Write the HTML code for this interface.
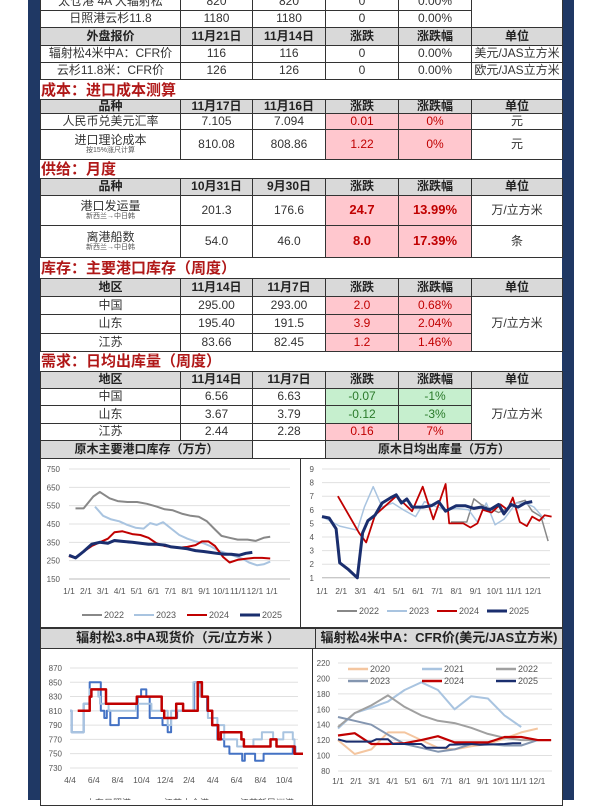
<!DOCTYPE html>
<html><head><meta charset="utf-8">
<style>
body{margin:0;width:600px;height:800px;overflow:hidden;background:#fff;font-family:"Liberation Sans","Noto Sans CJK SC",sans-serif;position:relative}
.c{position:absolute;box-sizing:border-box;border:1px solid #333;display:flex;flex-direction:column;align-items:center;justify-content:center;font-size:12px;color:#333;background:#fff;line-height:1.1;text-align:center;white-space:nowrap}
.h{background:#d9d9d9;font-weight:bold;color:#222}
.p{background:#ffc7ce;color:#c00000}
.g{background:#c6efce;color:#2a7a2a}
.t{position:absolute;left:41px;font-size:15px;font-weight:bold;color:#b01818}
small{font-size:7px;color:#555}
.nav{position:absolute;top:0;height:800px;width:12px;background:#1f3864}
</style></head><body>
<div class="nav" style="left:28px"></div><div class="nav" style="left:562px"></div>
<div id="root"></div>
<svg id="sv" width="600" height="800" style="position:absolute;left:0;top:0" font-family="Liberation Sans, Noto Sans CJK SC, sans-serif"></svg>
<script>
var X=[40,180,252,325,398,471,562];
var R=document.getElementById('root');
function cell(x1,x2,y1,y2,html,cls,st){var d=document.createElement('div');d.className='c '+(cls||'');d.style.left=x1+'px';d.style.top=y1+'px';d.style.width=(x2-x1+1)+'px';d.style.height=(y2-y1+1)+'px';if(st)d.style.cssText+=st;d.innerHTML=html;R.appendChild(d);}
function row(y1,y2,v,cl,unit,st){for(var i=0;i<5;i++)cell(X[i],X[i+1],y1,y2,v[i],cl?cl[i]:'',st);if(unit!==null&&unit!==undefined)cell(X[5],X[6],y1,y2,unit,cl&&cl[5]?cl[5]:'',st);}
function title(y,t){var d=document.createElement('div');d.className='t';d.style.top=y+'px';d.textContent=t;R.appendChild(d);}
var H=['h','h','h','h','h','h'];
row(-8,10,['太仓港 4A 大辐射松','820','820','0','0.00%'],null,null);
row(10,27,['日照港云杉11.8','1180','1180','0','0.00%'],null,null);
cell(X[5],X[6],-8,27,'');
row(27,45,['外盘报价','11月21日','11月14日','涨跌','涨跌幅'],H,'单位');
row(45,62,['辐射松4米中A：CFR价','116','116','0','0.00%'],null,'美元/JAS立方米');
row(62,79,['云杉11.8米：CFR价','126','126','0','0.00%'],null,'欧元/JAS立方米');
title(79,'成本：进口成本测算');
row(99,113,['品种','11月17日','11月16日','涨跌','涨跌幅'],H,'单位');
row(113,129,['人民币兑美元汇率','7.105','7.094','0.01','0%'],['','','','p','p'],'元');
row(129,159,['进口理论成本<small>按15%涨尺计算</small>','810.08','808.86','1.22','0%'],['','','','p','p'],'元');
title(158,'供给：月度');
row(178,195,['品种','10月31日','9月30日','涨跌','涨跌幅'],H,'单位');
row(195,225,['港口发运量<small>新西兰→中日韩</small>','201.3','176.6','<b style="font-size:13px">24.7</b>','<b style="font-size:13px">13.99%</b>'],['','','','p','p'],'万/立方米');
row(225,257,['离港船数<small>新西兰→中日韩</small>','54.0','46.0','<b style="font-size:13px">8.0</b>','<b style="font-size:13px">17.39%</b>'],['','','','p','p'],'条');
title(257,'库存：主要港口库存（周度）');
row(278,296,['地区','11月14日','11月7日','涨跌','涨跌幅'],H,'单位');
row(296,314,['中国','295.00','293.00','2.0','0.68%'],['','','','p','p'],null);
row(314,333,['山东','195.40','191.5','3.9','2.04%'],['','','','p','p'],null);
row(333,351,['江苏','83.66','82.45','1.2','1.46%'],['','','','p','p'],null);
cell(X[5],X[6],296,351,'万/立方米');
title(350,'需求：日均出库量（周度）');
row(371,388,['地区','11月14日','11月7日','涨跌','涨跌幅'],H,'单位');
row(388,405,['中国','6.56','6.63','-0.07','-1%'],['','','','g','g'],null);
row(405,423,['山东','3.67','3.79','-0.12','-3%'],['','','','g','g'],null);
row(423,440,['江苏','2.44','2.28','0.16','7%'],['','','','p','p'],null);
cell(X[5],X[6],388,440,'万/立方米');
cell(40,252,440,458,'原木主要港口库存（万方）','h');
cell(252,325,440,458,'','');
cell(325,562,440,458,'原木日均出库量（万方）','h');
cell(40,300,458,627,'');cell(300,562,458,627,'');
cell(40,315,628,648,'辐射松3.8中A现货价（元/立方米 ）','h','font-size:13px');
cell(315,562,628,648,'辐射松4米中A：CFR价(美元/JAS立方米)','h','font-size:13px');
cell(40,312,648,805,'');cell(312,562,648,805,'');

var S=document.getElementById('sv'),o='';
function ln(x1,y1,x2,y2,c,w){o+='<line x1="'+x1+'" y1="'+y1+'" x2="'+x2+'" y2="'+y2+'" stroke="'+c+'" stroke-width="'+(w||1)+'"/>';}
function tx(x,y,t,a,s){o+='<text x="'+x+'" y="'+y+'" font-size="'+(s||9)+'" fill="#555" text-anchor="'+(a||'middle')+'">'+t+'</text>';}
function pl(pts,fx,fy,c,w,step){var s='',p=null;pts.forEach(function(q){var x=fx(q[0]),y=fy(q[1]);if(step&&p)s+=x.toFixed(1)+','+p.toFixed(1)+' ';s+=x.toFixed(1)+','+y.toFixed(1)+' ';p=y;});o+='<polyline points="'+s+'" fill="none" stroke="'+c+'" stroke-width="'+w+'" stroke-linejoin="round"/>';}
function leg(x,y,c,w,t){ln(x,y,x+20,y,c,w);tx(x+22,y+3,t,'start',9);}
var GR='#888',LB='#a9c4e0',RD='#c00000',NV='#1a2e6e';
// chart 1
(function(){var fx=function(m){return 69+m*16.9},fy=function(v){return 469+(750-v)/600*110};
for(var v=150;v<=750;v+=100){ln(69,fy(v),290,fy(v),'#e0e0e0');tx(60,fy(v)+3,v,'end',8);}
ln(69,fy(150),290,fy(150),'#bbb');
var lb=['1/1','2/1','3/1','4/1','5/1','6/1','7/1','8/1','9/1','10/1','11/1','12/1','1/1'];
lb.forEach(function(l,i){tx(fx(i),594,l,'middle',8.5)});
var k=function(m){return fx(m*0.96)};
pl([[0.4,535],[0.9,535],[1.5,600],[1.9,625],[2.5,590],[3,575],[3.6,570],[4.2,570],[4.8,560],[5.4,545],[5.9,530],[6.4,525],[7,505],[7.5,495],[8,490],[8.5,465],[9,420],[9.4,385],[9.9,375],[10.4,365],[11,365],[11.5,358],[12,375],[12.4,380]],k,fy,GR,2);
pl([[1.6,545],[2.1,495],[2.6,475],[3.1,465],[3.6,445],[4.1,430],[4.6,425],[5,455],[5.4,445],[5.8,460],[6.3,425],[6.8,390],[7.3,370],[7.8,355],[8.3,345],[8.7,330],[9.2,305],[9.7,290],[10.2,275],[10.7,260],[11.1,240],[11.6,225],[12,230],[12.4,245]],k,fy,LB,2);
pl([[0,275],[0.4,265],[0.9,300],[1.4,330],[1.9,350],[2.4,370],[2.8,405],[3.3,410],[3.9,395],[4.4,390],[4.9,375],[5.4,345],[5.9,330],[6.3,325],[6.8,320],[7.3,325],[7.8,335],[8.2,355],[8.6,355],[9,330],[9.5,270],[9.9,240],[10.4,255],[10.9,260],[11.4,265],[11.9,265],[12.4,262]],k,fy,RD,2);
pl([[0,280],[0.4,265],[0.9,300],[1.4,340],[1.9,350],[2.4,345],[2.8,360],[3.3,355],[3.9,350],[4.4,345],[4.9,340],[5.4,340],[5.9,335],[6.3,325],[6.8,320],[7.3,315],[7.8,305],[8.3,300],[8.7,295],[9.1,290],[9.6,285],[10,285],[10.5,280],[10.9,290],[11.3,295]],k,fy,NV,3);
leg(82,615,GR,2,'2022');leg(134,615,LB,2,'2023');leg(187,615,RD,2,'2024');leg(240,615,NV,3,'2025');
})();
// chart 2
(function(){var fx0=function(m){return 322+m*19.2},fx=function(m){return fx0(m*0.92)},fy=function(v){return 469+(9-v)*13.6};
for(var v=1;v<=9;v++){ln(322,fy(v),550,fy(v),'#e0e0e0');tx(314,fy(v)+3,v,'end',8);}
ln(322,fy(1),550,fy(1),'#bbb');
['1/1','2/1','3/1','4/1','5/1','6/1','7/1','8/1','9/1','10/1','11/1','12/1'].forEach(function(l,i){tx(fx0(i),594,l,'middle',8.5)});
pl([[7.3,5.1],[8.2,5.1],[8.6,6.8],[9,6.4],[9.5,6.1],[10,5.8],[10.5,6.1],[11,6.5],[11.5,6.7],[11.9,5.9],[12.4,5.5],[12.8,3.7]],fx,fy,GR,1.5);
pl([[0,5.5],[1,4.8],[2,4.5],[2.4,6.2],[2.9,7.7],[3.4,6.2],[4,6.5],[4.6,6],[5.3,5.5],[5.8,6.6],[6.3,6.3],[7,6],[7.6,6.1],[8.3,6],[8.8,5.1],[9.3,6.5],[9.8,4.9],[10.3,5.3],[11,6.5],[11.5,6.5],[12,6.2],[12.6,5.3]],fx,fy,LB,1.5);
pl([[0.9,7],[2.1,4.3],[2.5,3.6],[3,5.6],[3.6,6.3],[4.2,7],[4.7,6.4],[5.1,5.9],[5.7,7.7],[6.3,5.3],[6.6,6.4],[7,7.9],[7.2,5],[8,5],[8.4,4.7],[8.8,5],[9.1,6],[9.6,5.8],[10.1,6.4],[10.5,6],[10.8,6.9],[11.2,5.1],[11.6,4.8],[11.9,5.5],[12.3,5.2],[12.6,5.6],[13,5.5]],fx,fy,RD,1.8);
pl([[0,5.5],[0.4,5.4],[0.8,4.6],[1,2.1],[1.5,1.6],[2,1],[2.3,4.3],[2.6,5.2],[3,5.6],[3.4,6.5],[3.9,6.9],[4.2,7.1],[4.5,6.5],[4.8,6.8],[5.1,6.2],[5.7,6.2],[6.2,6.3],[6.6,6.6],[7,5.9],[7.6,6.3],[8.1,6.3],[8.6,6.1],[9,6.2],[9.5,6],[10,6.4],[10.3,5.7],[10.7,6.4],[11.1,6.2],[11.5,6.5],[11.9,6.6]],fx,fy,NV,3);
leg(337,611,GR,2,'2022');leg(387,611,LB,2,'2023');leg(437,611,RD,2,'2024');leg(487,611,NV,3,'2025');
})();
// chart 3
(function(){var fx0=function(m){return 70+m*11.9},fx=function(m){return fx0(m*0.72)},fy=function(v){return 668+(870-v)*0.714};
for(var v=730;v<=870;v+=20){ln(70,fy(v),298,fy(v),'#e0e0e0');tx(62,fy(v)+3,v,'end',8);}
['4/4','6/4','8/4','10/4','12/4','2/4','4/4','6/4','8/4','10/4'].forEach(function(l,i){tx(fx0(i*2),783,l,'middle',8.5)});
pl([[0,810],[0.2,780],[1.3,780],[1.6,820],[2,820],[2.3,850],[3.4,850],[3.6,810],[4,800],[4.3,810],[4.7,790],[5.5,790],[5.7,800],[7.7,800],[7.9,830],[8.3,840],[8.9,830],[9.3,800],[10.8,790],[11.4,780],[11.8,800],[12.5,810],[14.5,850],[15.2,830],[16,810],[16.6,790],[17.2,770],[18,760],[18.6,750],[20.1,740],[20.4,750],[21.6,740],[22.6,750],[25.1,750],[26,760],[26.3,750]],fx,fy,'#4472c4',2,true);
pl([[0,810],[0.2,780],[1.3,780],[1.6,820],[2.3,840],[3.3,830],[3.5,820],[4.5,810],[7.4,810],[7.7,820],[9.1,820],[9.5,810],[11.4,790],[11.8,810],[14.4,850],[15.2,830],[16.1,800],[17.2,790],[18,770],[19.5,760],[21.4,770],[22.4,780],[23.7,770],[24.9,780],[26,770],[26.2,760]],fx,fy,LB,2,true);
pl([[0.9,810],[2.3,830],[2.5,840],[4,840],[4.2,820],[7.6,820],[7.8,830],[10.3,830],[10.7,810],[11,800],[12.2,800],[12.4,820],[13.2,810],[14.7,810],[14.9,850],[15.4,830],[16.1,810],[16.6,790],[17.3,770],[17.6,780],[19.6,780],[20,770],[20.3,760],[23.1,760],[23.4,770],[24.1,760],[26,760],[26.2,750],[27.2,750]],fx,fy,RD,2.5,true);
ln(62,803,82,803,'#4472c4',3);tx(86,806,'山东日照港','start',9);ln(140,803,160,803,LB,3);tx(164,806,'江苏太仓港','start',9);ln(216,803,236,803,RD,3);tx(240,806,'江苏新民洲港','start',9);
})();
// chart 4
(function(){var fx0=function(m){return 338+m*18.1},fx=function(m){return fx0(m*0.92)},fy=function(v){return 663+(220-v)*0.771};
for(var v=80;v<=220;v+=20){ln(338,fy(v),552,fy(v),'#e0e0e0');tx(330,fy(v)+3,v,'end',8);}
['1/1','2/1','3/1','4/1','5/1','6/1','7/1','8/1','9/1','10/1','11/1','12/1'].forEach(function(l,i){tx(fx0(i),784,l,'middle',8.5)});
pl([[0,120],[1,102],[2,108],[3,130],[4,130],[5,120],[6,110],[7,108],[8,112],[9,115],[10,122],[11,130],[12,135]],fx,fy,'#f4c6a0',2);
pl([[0,135],[1,155],[2,162],[3,170],[4,185],[5,195],[6,185],[7,160],[8,177],[9,174],[10,152],[11,137]],fx,fy,LB,2);
pl([[0,137],[1,155],[2,165],[3,178],[4,163],[5,152],[6,145],[7,142],[8,136],[9,128],[10,123],[11,120],[12,120]],fx,fy,'#a0a0a0',2);
pl([[0,150],[1,145],[2,140],[3,127],[4,115],[5,110],[6,105],[7,108],[8,115],[9,115],[10,113],[11,113],[12,120]],fx,fy,'#8496b0',2);
pl([[0,126],[1,129],[2,115],[3,115],[4,116],[5,120],[6,125],[7,117],[8,117],[9,117],[10,124],[11,124],[12,120],[12.8,120]],fx,fy,RD,2.2);
pl([[0,121],[0.5,118],[2,118],[2.3,121],[3,121],[3.3,115],[5,115],[5.3,110],[6.5,110],[6.7,114],[8,115],[8.5,114],[10,115],[10.5,116],[11,116]],fx,fy,NV,2);
leg(348,669,'#f4c6a0',2.5,'2020');leg(422,669,LB,2.5,'2021');leg(496,669,'#a0a0a0',2.5,'2022');
leg(348,681,'#8496b0',2.5,'2023');leg(422,681,RD,2.5,'2024');leg(496,681,NV,2.5,'2025');
})();
S.innerHTML=o;
</script>
</body></html>
